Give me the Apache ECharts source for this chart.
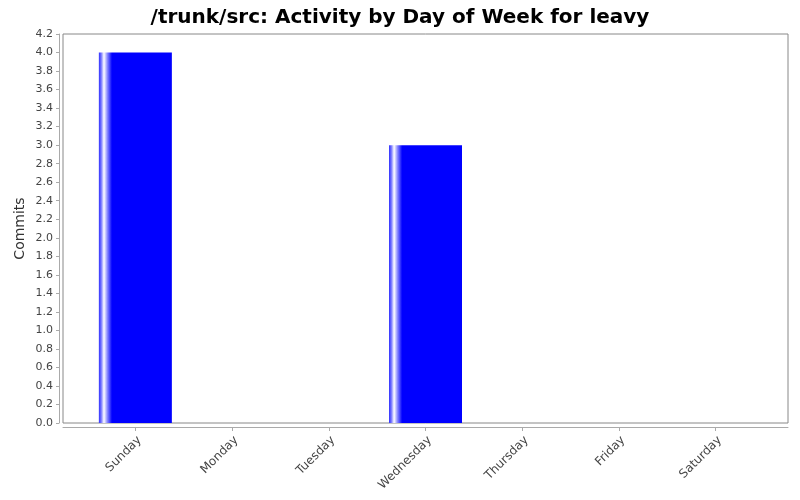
<!DOCTYPE html>
<html><head><meta charset="utf-8">
<script src="https://cdn.jsdelivr.net/npm/echarts@6/dist/echarts.min.js"></script>
<style>html,body{margin:0;padding:0;background:#fff}#c{width:800px;height:500px}</style>
</head><body><div id="c"></div>
<script>
const categories = ['Sunday','Monday','Tuesday','Wednesday','Thursday','Friday','Saturday'];
const commits = [4, 0, 0, 3, 0, 0, 0];
const yMin = 0, yMax = 4.2, yStep = 0.2;
const titleText = '/trunk/src: Activity by Day of Week for leavy';
const yName = 'Commits';

const chart = echarts.init(document.getElementById('c'), null, {renderer:'canvas'});
const barGrad = new echarts.graphic.LinearGradient(0,0,1,0,[
  {offset:0, color:'#3030ff'},
  {offset:0.03, color:'#7070ff'},
  {offset:0.07, color:'#ffffff'},
  {offset:0.12, color:'#8080ff'},
  {offset:0.18, color:'#0000ff'},
  {offset:1, color:'#0000ff'}
]);
chart.setOption({
  animation:false,
  backgroundColor:'#fff',
  title:{text:titleText, left:'center', top:3,
    textStyle:{fontFamily:'DejaVu Sans', fontWeight:'bold', fontSize:20, color:'#000'}},
  grid:[
    {left:63, right:12, top:34, bottom:77, show:true, borderColor:'#888', borderWidth:1, backgroundColor:'#fff'},
    {left:87, right:36, top:34, bottom:77}
  ],
  xAxis:[
    {gridIndex:0, type:'value', min:0, max:1, offset:4,
      axisLine:{show:true, onZero:false, lineStyle:{color:'#aaa'}}, axisTick:{show:false},
      axisLabel:{show:false}, splitLine:{show:false}},
    {gridIndex:1, type:'category', data:categories, offset:4,
      axisLine:{show:false, onZero:false}, axisTick:{show:true, length:4, alignWithLabel:true, lineStyle:{color:'#aaa'}},
      axisLabel:{rotate:45, fontFamily:'DejaVu Sans', fontSize:12, color:'#444', margin:7, verticalAlign:'top'}}
  ],
  yAxis:[
    {gridIndex:0, type:'value', min:yMin, max:yMax, interval:yStep, offset:4,
      name:yName, nameLocation:'middle', nameGap:32, nameMoveOverlap:false,
      nameTextStyle:{fontFamily:'DejaVu Sans', fontSize:14, color:'#333'},
      axisLine:{show:true, onZero:false, lineStyle:{color:'#aaa'}}, axisTick:{show:true, length:3, lineStyle:{color:'#aaa'}},
      axisLabel:{fontFamily:'DejaVu Sans', fontSize:11, color:'#444', margin:6,
        formatter:v=>v.toFixed(1)},
      splitLine:{show:false}},
    {gridIndex:1, type:'value', min:yMin, max:yMax, interval:yStep, show:false, splitLine:{show:false}}
  ],
  series:[{type:'bar', xAxisIndex:1, yAxisIndex:1, data:commits, barWidth:73,
    itemStyle:{color:barGrad}}]
});
</script></body></html>
